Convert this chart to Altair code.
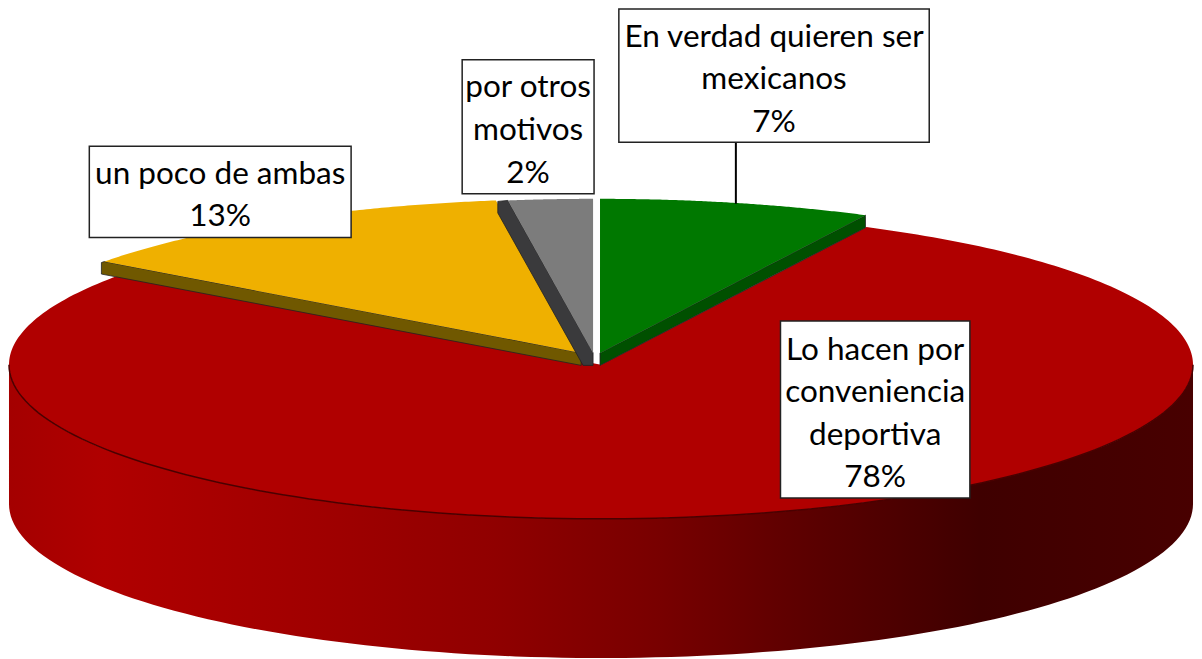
import numpy as np
import pandas as pd
import altair as alt

# --- chart data -------------------------------------------------------
categories = ["En verdad quieren ser mexicanos", "Lo hacen por conveniencia deportiva",
              "un poco de ambas", "por otros motivos"]
shares = [7.4, 77.7, 12.6, 2.3]
label_lines = [["En verdad quieren ser", "mexicanos", "7%"],
               ["Lo hacen por", "conveniencia", "deportiva", "78%"],
               ["un poco de ambas", "13%"],
               ["por otros", "motivos", "2%"]]

# --- styling and layout ------------------------------------------------
top_colors = ["#007800", "#B00000", "#EFB000", "#7C7C7C"]
side_colors = ["#005000", "#B00000", "#705800", "#3A3A3C"]
W, H = 1186, 651
SX, SY = 1186 / 1196, 649 / 653
RX, RY, DEPTH, TH = 597.0 * SX, 155.0 * SY, 140.0 * SY, 12.5


def fx(x):  # reference pixel -> view pixel (page margin is 8px)
    return (x - 2) * SX


def fy(y):
    return 1 + (y - 4) * SY


centres = [(599, 350), (600, 362), (580, 350), (592, 350)]
box_edges = [(618, 931, 4, 138), (781, 972, 318, 496), (84, 348, 142, 234), (460, 593, 55, 190)]
first_baseline = [42, 357, 180, 93]
LINE = 42.8

# wedge angles, clockwise from the top
ends = np.cumsum(shares) / 100 * 360
starts = ends - np.array(shares) / 100 * 360


def arc(cx, cy, a0, a1, n=120, dy=0.0):
    t = np.radians(np.linspace(a0, a1, n))
    return [[fx(cx) + RX * np.sin(v), fy(cy) + dy - RY * np.cos(v)] for v in t]


def feature(ring, closed=True):
    pts = [[float(a), float(b)] for a, b in ring]
    if closed:
        pts = pts + [pts[0]]
        geom = {"type": "Polygon", "coordinates": [pts]}
    else:
        geom = {"type": "LineString", "coordinates": pts}
    return {"type": "Feature", "properties": {}, "geometry": geom}


def shape(ring, closed=True, **mark):
    return alt.Chart(alt.Data(values=[feature(ring, closed)])).mark_geoshape(**mark).project(
        type="identity", scale=1, translate=[0, 0])


wall_gradient = alt.LinearGradient(
    gradient="linear", x1=0, x2=1, y1=0, y2=0,
    stops=[alt.GradientStop(color=c, offset=o) for c, o in [
        ("#A40000", 0), ("#B00000", 0.08), ("#A00000", 0.26), ("#900000", 0.41),
        ("#780000", 0.55), ("#5A0000", 0.68), ("#3F0000", 0.82), ("#480000", 1)]])

layers = []

# red body: outer wall below the front arc, then the top face
cx, cy = centres[1]
top_front = arc(cx, cy, 90, 270)
bottom_front = arc(cx, cy, 270, 90, dy=DEPTH)
layers.append(shape(top_front + bottom_front, fill=wall_gradient, strokeWidth=0))
layers.append(shape(arc(cx, cy, starts[1], ends[1], n=300) + [[fx(cx), fy(cy)]],
                    fill=top_colors[1], strokeWidth=0))
layers.append(shape(top_front, closed=False, filled=False, stroke="#4A0000", strokeWidth=1.5))


def wedge_layers(i, a_edge, shift=0.0, outer=0.0):
    """Exploded slice: the extruded cut face on one edge, then the top face."""
    cx, cy = centres[i]
    ax, ay = fx(cx), fy(cy)
    rx, ry = arc(cx, cy, a_edge, a_edge, n=1)[0]
    side = [[ax, ay], [rx, ry], [rx - shift - outer, ry + 1],
            [rx - shift - outer, ry + TH], [ax - shift, ay + TH], [ax, ay + TH]]
    out = [shape(side, fill=side_colors[i], stroke="#222222", strokeWidth=0.8)]
    out.append(shape(arc(cx, cy, starts[i], ends[i]) + [[ax, ay]], fill=top_colors[i], strokeWidth=0))
    return out


layers += wedge_layers(2, starts[2], outer=3)
layers += wedge_layers(3, starts[3], shift=10)
layers += wedge_layers(0, ends[0])

# leader line of the green label
leader = pd.DataFrame({"x": [fx(736)], "y": [fy(138)], "y2": [fy(200)]})
layers.append(alt.Chart(leader).mark_rule(color="black", strokeWidth=2).encode(
    x=alt.X("x:Q", scale=None, axis=None),
    y=alt.Y("y:Q", scale=None, axis=None), y2="y2:Q"))

# label boxes
boxes = pd.DataFrame([{"cat": c, "x": fx(b[0]), "x2": fx(b[1]), "y": fy(b[2]), "y2": fy(b[3])}
                      for c, b in zip(categories, box_edges)])
layers.append(alt.Chart(boxes).mark_rect(fill="white", stroke="#222222", strokeWidth=1.5).encode(
    x=alt.X("x:Q", scale=None, axis=None), x2="x2:Q",
    y=alt.Y("y:Q", scale=None, axis=None), y2="y2:Q"))

# label text
rows = []
for lines, b, base in zip(label_lines, box_edges, first_baseline):
    for k, line in enumerate(lines):
        rows.append({"text": line, "x": fx((b[0] + b[1]) / 2), "y": fy(base + k * LINE)})
texts = pd.DataFrame(rows)
layers.append(alt.Chart(texts).mark_text(
    font="Lato", fontSize=31.5, color="black",
    align="center", baseline="alphabetic").encode(
    x=alt.X("x:Q", scale=None, axis=None),
    y=alt.Y("y:Q", scale=None, axis=None), text="text:N"))

chart = alt.layer(*layers).properties(
    width=W, height=H, padding=0, background="white",
    autosize=alt.AutoSizeParams(type="none")
).configure_view(stroke=None)

chart.save("out.html", embed_options={"renderer": "svg", "actions": False})
